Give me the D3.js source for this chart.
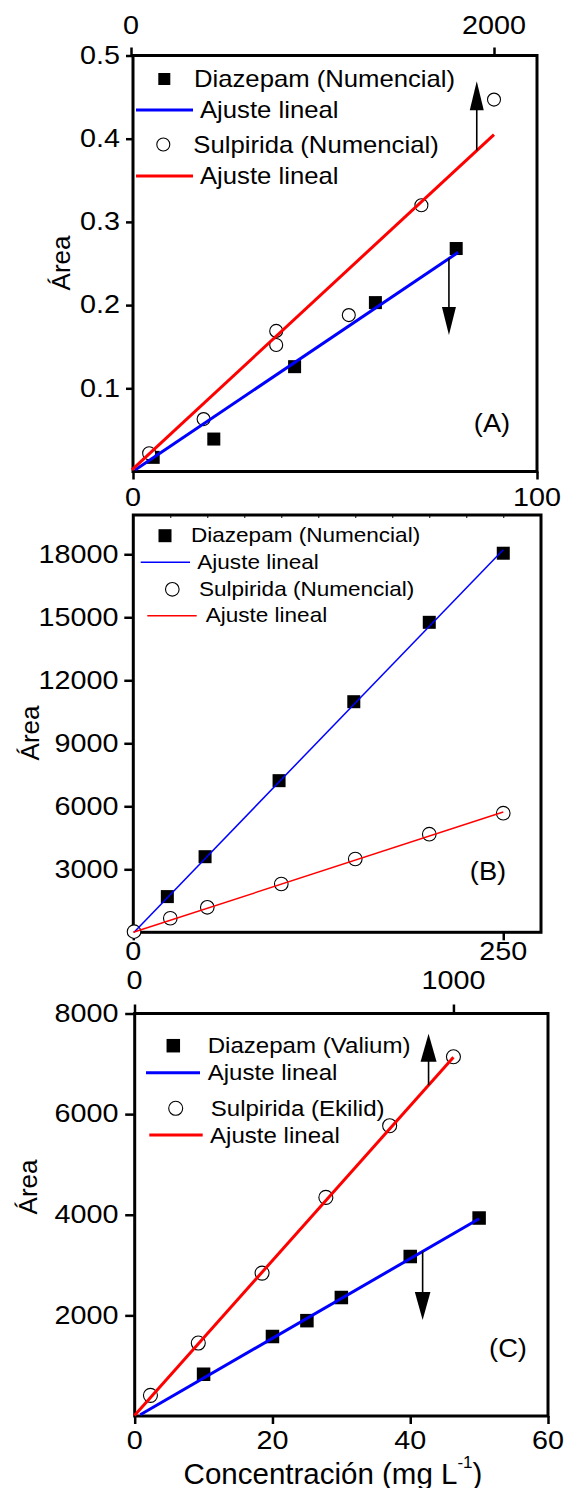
<!DOCTYPE html>
<html>
<head>
<meta charset="utf-8">
<script src="https://cdn.jsdelivr.net/npm/d3@7"></script>
<style>
  body { margin: 0; background: #fff; }
  svg { display: block; }
  text { font-family: "Liberation Sans", Arial, sans-serif; fill: #000; }
</style>
</head>
<body>
<svg width="571" height="1488"></svg>
<script>
// ---- data ----
// panel A (Diazepam on bottom axis, Sulpirida on top axis)
const aDiazX = [5, 20, 40, 60, 80];
const aDiazY = [0.017, 0.039, 0.126, 0.203, 0.268];
const aSulpX = [100, 400, 800, 800, 1200, 1600, 2000];
const aSulpY = [0.022, 0.063, 0.169, 0.152, 0.188, 0.320, 0.447];
const aFitDiaz = [0.0002, 0.00327];   // intercept, slope
const aFitDiazRange = [0.5, 80.5];
const aFitSulp = [0.001, 0.000202];
const aFitSulpRange = [5, 2000];
const aYTicks = [0.1, 0.2, 0.3, 0.4, 0.5];
const aTopTicks = [0, 2000];
const aBottomTicks = [0, 100];
const aArrowX = [1905, 78.2];
const aArrowFrom = [0.386, 0.256];
const aArrowTo = [0.469, 0.164];
const aLegend = ["Diazepam (Numencial)", "Ajuste lineal", "Sulpirida (Numencial)", "Ajuste lineal"];

// panel B
const bDiazX = [23, 48.5, 98.5, 149, 200, 250];
const bDiazY = [1700, 3600, 7220, 10980, 14760, 18050];
const bSulpX = [0.5, 25, 50, 100, 150, 200, 250];
const bSulpY = [30, 670, 1190, 2300, 3490, 4670, 5670];
const bFitDiaz = [-30, 73];
const bFitDiazRange = [0.5, 250];
const bFitSulp = [0, 22.9];
const bFitSulpRange = [0, 250];
const bYTicks = [3000, 6000, 9000, 12000, 15000, 18000];
const bBottomTicks = [0, 250];
const bMinorTicks = [25, 50, 75, 100, 125, 150, 175, 200, 225, 250];
const bLegend = ["Diazepam (Numencial)", "Ajuste lineal", "Sulpirida (Numencial)", "Ajuste lineal"];

// panel C (Diazepam on bottom axis, Sulpirida on top axis)
const cDiazX = [10, 20, 25, 30, 40, 50];
const cDiazY = [830, 1580, 1895, 2355, 3170, 3935];
const cSulpX = [50, 200, 400, 600, 800, 1000];
const cSulpY = [410, 1450, 2840, 4345, 5770, 7140];
const cFitDiaz = [-40, 79.2];
const cFitDiazRange = [0.8, 50];
const cFitSulp = [10, 7.12];
const cFitSulpRange = [0, 1000];
const cYTicks = [2000, 4000, 6000, 8000];
const cTopTicks = [0, 1000];
const cBottomTicks = [0, 20, 40, 60];
const cArrowX = [922, 41.8];
const cArrowFrom = [6575, 3270];
const cArrowTo = [7600, 1907];
const cLegend = ["Diazepam (Valium)", "Ajuste lineal", "Sulpirida (Ekilid)", "Ajuste lineal"];

const svg = d3.select("svg");
const TICK_SX = 1.15;

function label(g, x, y, str, size, anchor, sx) {
  return g.append("text")
    .attr("transform", `translate(${x},${y}) scale(${sx || 1},1)`)
    .attr("font-size", size)
    .attr("text-anchor", anchor || "start")
    .attr("dominant-baseline", "central")
    .text(str);
}

function frame(g, x, y) {
  g.append("rect")
    .attr("x", x.range()[0]).attr("y", y.range()[1])
    .attr("width", x.range()[1] - x.range()[0])
    .attr("height", y.range()[0] - y.range()[1])
    .attr("fill", "none").attr("stroke", "#000").attr("stroke-width", 3);
}

function tickLines(g, axis, pos) {
  const a = g.append("g").attr("transform", pos).call(axis);
  a.select(".domain").remove();
  a.selectAll(".tick line").attr("stroke", "#000").attr("stroke-width", 2.5);
  a.selectAll(".tick text").remove();
}

function squares(g, xs, ys, x, y, size) {
  g.selectAll(null).data(xs).enter().append("rect")
    .attr("x", (d) => x(d) - size / 2)
    .attr("y", (d, i) => y(ys[i]) - size / 2)
    .attr("width", size).attr("height", size)
    .attr("fill", "#000");
}

function circles(g, xs, ys, x, y, r) {
  g.selectAll(null).data(xs).enter().append("circle")
    .attr("cx", (d) => x(d))
    .attr("cy", (d, i) => y(ys[i]))
    .attr("r", r)
    .attr("fill", "#fff").attr("stroke", "#000").attr("stroke-width", 1.1);
}

function fitLine(g, fit, range, x, y, color, w) {
  const line = d3.line().x((d) => x(d)).y((d) => y(fit[0] + fit[1] * d));
  g.append("path").datum(range)
    .attr("d", line)
    .attr("fill", "none").attr("stroke", color).attr("stroke-width", w);
}

function arrow(g, px, py0, py1, head, half) {
  const dir = py1 < py0 ? 1 : -1;
  g.append("line")
    .attr("x1", px).attr("x2", px)
    .attr("y1", py0).attr("y2", py1 + dir * head * 0.6)
    .attr("stroke", "#000").attr("stroke-width", 1.6);
  g.append("path")
    .attr("d", `M${px},${py1} L${px - half},${py1 + dir * head} L${px + half},${py1 + dir * head} Z`)
    .attr("fill", "#000");
}

function legend(g, names, rows, opt) {
  // rows: [y] for each entry; markers: square, blue line, circle, red line
  g.append("rect")
    .attr("x", opt.sqX - opt.sq / 2).attr("y", rows[0] - opt.sq / 2)
    .attr("width", opt.sq).attr("height", opt.sq).attr("fill", "#000");
  g.append("line")
    .attr("x1", opt.l1[0]).attr("x2", opt.l1[1])
    .attr("y1", rows[1]).attr("y2", rows[1])
    .attr("stroke", "#0000ff").attr("stroke-width", opt.lw);
  g.append("circle")
    .attr("cx", opt.ciX).attr("cy", rows[2]).attr("r", opt.r)
    .attr("fill", "#fff").attr("stroke", "#000").attr("stroke-width", 1.1);
  g.append("line")
    .attr("x1", opt.l2[0]).attr("x2", opt.l2[1])
    .attr("y1", rows[3]).attr("y2", rows[3])
    .attr("stroke", "#ff0000").attr("stroke-width", opt.lw);
  names.forEach((n, i) => label(g, opt.tx[i], rows[i], n, opt.fs, "start", opt.sx));
}

function yTitle(g, x, y) {
  g.append("text")
    .attr("transform", `translate(${x},${y}) rotate(-90)`)
    .attr("font-size", 26)
    .attr("text-anchor", "middle")
    .attr("dominant-baseline", "central")
    .text("Área");
}

// ---------------- panel A ----------------
{
  const g = svg.append("g");
  const x = d3.scaleLinear().domain([0, 100]).range([133, 537]);
  const xTop = d3.scaleLinear().domain([0, 2000]).range([131, 494]);
  const y = d3.scaleLinear().domain([0, 0.5]).range([471.5, 55.5]);

  frame(g, x, y);
  tickLines(g, d3.axisLeft(y).tickValues(aYTicks).tickSize(7), `translate(${x.range()[0]},0)`);
  tickLines(g, d3.axisTop(xTop).tickValues(aTopTicks).tickSize(8), `translate(0,${y.range()[1]})`);
  tickLines(g, d3.axisBottom(x).tickValues(aBottomTicks).tickSize(8), `translate(0,${y.range()[0]})`);

  aYTicks.forEach((v) => label(g, 120, y(v), d3.format(".1f")(v), 25, "end", TICK_SX));
  aTopTicks.forEach((v) => label(g, xTop(v), 26, String(v), 25, "middle", TICK_SX));
  aBottomTicks.forEach((v) => label(g, x(v), 498, String(v), 25, "middle", TICK_SX));

  squares(g, aDiazX, aDiazY, x, y, 13);
  circles(g, aSulpX, aSulpY, xTop, y, 6.5);
  fitLine(g, aFitDiaz, aFitDiazRange, x, y, "#0000ff", 3);
  fitLine(g, aFitSulp, aFitSulpRange, xTop, y, "#ff0000", 3);

  arrow(g, xTop(aArrowX[0]), y(aArrowFrom[0]), y(aArrowTo[0]), 29, 7);
  arrow(g, x(aArrowX[1]), y(aArrowFrom[1]), y(aArrowTo[1]), 28, 7);

  legend(g, aLegend, [79, 110, 144.5, 176], {
    sqX: 164.3, sq: 12, ciX: 163.3, r: 6.5, l1: [136, 193], l2: [136, 193], lw: 3,
    tx: [194, 200, 193.3, 200], fs: 24, sx: 1.07
  });

  label(g, 492, 423, "(A)", 26, "middle", 1.05);
  yTitle(g, 61, 263);
}

// ---------------- panel B ----------------
{
  const g = svg.append("g");
  const x = d3.scaleLinear().domain([0, 275.5]).range([133.3, 541]);
  const y = d3.scaleLinear().domain([0, 19870]).range([932.3, 515]);

  frame(g, x, y);
  tickLines(g, d3.axisLeft(y).tickValues(bYTicks).tickSize(9), `translate(${x.range()[0]},0)`);
  tickLines(g, d3.axisBottom(x).tickValues(bBottomTicks).tickSize(8), `translate(0,${y.range()[0]})`);
  const minor = g.append("g").attr("transform", `translate(0,${y.range()[1]})`)
    .call(d3.axisBottom(x).tickValues(bMinorTicks).tickSize(3).tickFormat(""));
  minor.select(".domain").remove();
  minor.selectAll(".tick line").attr("stroke", "#000").attr("stroke-width", 1);

  bYTicks.forEach((v) => label(g, 118.4, y(v), String(v), 25, "end", TICK_SX));
  bBottomTicks.forEach((v) => label(g, x(v), 952, String(v), 25, "middle", TICK_SX));

  squares(g, bDiazX, bDiazY, x, y, 13);
  circles(g, bSulpX, bSulpY, x, y, 6.8);
  fitLine(g, bFitDiaz, bFitDiazRange, x, y, "#0000ff", 1.5);
  fitLine(g, bFitSulp, bFitSulpRange, x, y, "#ff0000", 1.5);

  legend(g, bLegend, [535.7, 562.3, 589.3, 615.7], {
    sqX: 165, sq: 13, ciX: 172.3, r: 6.8, l1: [140.7, 190], l2: [147.3, 196.7], lw: 1.5,
    tx: [191, 197.3, 199, 205.7], fs: 20.5, sx: 1.1
  });

  label(g, 488, 871.7, "(B)", 26, "middle", 1.05);
  yTitle(g, 30, 733);
}

// ---------------- panel C ----------------
{
  const g = svg.append("g");
  const x = d3.scaleLinear().domain([0, 60]).range([134.7, 548]);
  const xTop = d3.scaleLinear().domain([0, 1296.5]).range([134.5, 548]);
  const y = d3.scaleLinear().domain([0, 8000]).range([1416, 1013.5]);

  frame(g, x, y);
  tickLines(g, d3.axisLeft(y).tickValues(cYTicks).tickSize(9.5), `translate(${x.range()[0]},0)`);
  tickLines(g, d3.axisTop(xTop).tickValues(cTopTicks).tickSize(9), `translate(0,${y.range()[1]})`);
  tickLines(g, d3.axisBottom(x).tickValues(cBottomTicks).tickSize(8), `translate(0,${y.range()[0]})`);

  cYTicks.forEach((v) => label(g, 118.4, y(v), String(v), 25, "end", TICK_SX));
  cTopTicks.forEach((v) => label(g, xTop(v), 981, String(v), 25, "middle", TICK_SX));
  cBottomTicks.forEach((v) => label(g, x(v), 1441, String(v), 25, "middle", TICK_SX));

  squares(g, cDiazX, cDiazY, x, y, 13.5);
  circles(g, cSulpX, cSulpY, xTop, y, 7);
  fitLine(g, cFitDiaz, cFitDiazRange, x, y, "#0000ff", 3);
  fitLine(g, cFitSulp, cFitSulpRange, xTop, y, "#ff0000", 3);

  arrow(g, xTop(cArrowX[0]), y(cArrowFrom[0]), y(cArrowTo[0]), 28, 8);
  arrow(g, x(cArrowX[1]), y(cArrowFrom[1]), y(cArrowTo[1]), 28, 7.8);

  legend(g, cLegend, [1045.7, 1072.7, 1108.3, 1135], {
    sqX: 173.3, sq: 13.5, ciX: 175.7, r: 7, l1: [146, 200], l2: [149.3, 202.7], lw: 3,
    tx: [207.7, 207.7, 210.7, 210], fs: 21.5, sx: 1.12
  });

  label(g, 508, 1348.3, "(C)", 26, "middle", 1.05);
  yTitle(g, 28, 1187);

  const t = g.append("text")
    .attr("x", 333).attr("y", 1473)
    .attr("font-size", 29.5)
    .attr("text-anchor", "middle")
    .attr("dominant-baseline", "central");
  t.append("tspan").text("Concentración (mg L");
  t.append("tspan").attr("font-size", 17).attr("dy", -11).text("-1");
  t.append("tspan").attr("dy", 11).text(")");
}
</script>
</body>
</html>
